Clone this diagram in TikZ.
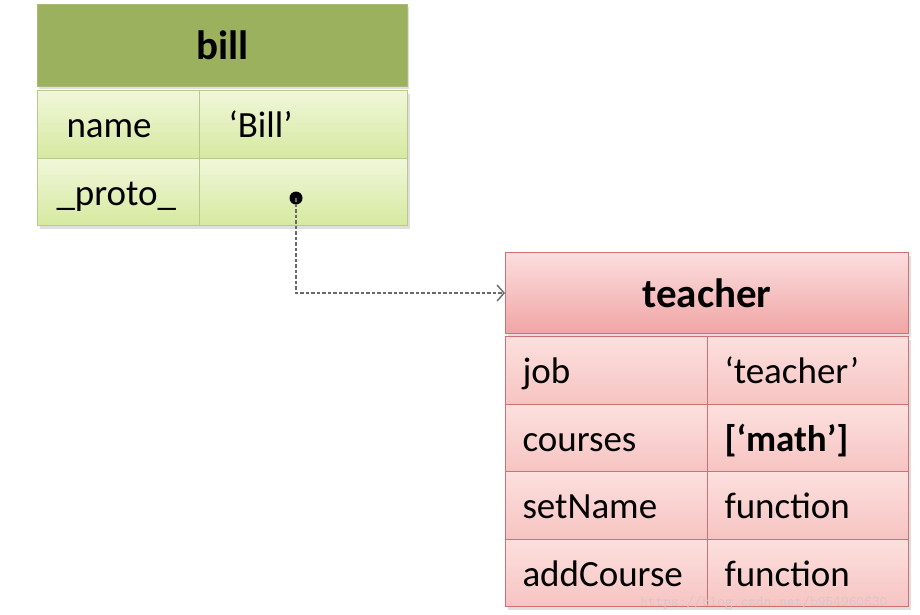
\documentclass[tikz,border=0pt]{standalone}
\usepackage{fontspec}
\setmainfont{Carlito}
\usetikzlibrary{arrows.meta,positioning,shadows}
\definecolor{billhead}{RGB}{156,177,94}
\definecolor{billheadline}{RGB}{170,185,120}
\definecolor{billtop}{RGB}{240,247,218}
\definecolor{billbot}{RGB}{214,233,160}
\definecolor{billline}{RGB}{185,200,140}
\definecolor{teachtop}{RGB}{252,222,222}
\definecolor{teachbot}{RGB}{240,165,165}
\definecolor{teachcelltop}{RGB}{252,224,222}
\definecolor{teachcellbot}{RGB}{246,196,194}
\definecolor{teachline}{RGB}{208,112,112}
\definecolor{arrowgray}{RGB}{105,105,105}
\definecolor{wmark}{RGB}{214,198,198}
\tikzset{
  shd/.style={drop shadow={shadow xshift=2pt,shadow yshift=-3pt,opacity=0.25}},
  headbox/.style={anchor=north west,inner sep=0pt,shd,text height=31pt,text depth=2pt,
    font=\fontsize{41}{48}\selectfont\bfseries},
  billcell/.style={draw=billline,line width=1pt,top color=billtop,bottom color=billbot,
    anchor=north west,minimum height=67.5pt,inner xsep=29pt,inner ysep=0pt,
    text height=28pt,text depth=1pt,align=left,shd,font=\fontsize{37}{44}\selectfont},
  teachcell/.style={draw=teachline,line width=1pt,top color=teachcelltop,bottom color=teachcellbot,
    anchor=north west,minimum height=67.5pt,inner xsep=17pt,inner ysep=0pt,
    text height=28pt,text depth=1pt,align=left,shd,font=\fontsize{37}{44}\selectfont}
}
\begin{document}
\begin{tikzpicture}[x=1pt,y=-1pt,>=Stealth]
  \useasboundingbox[fill=white] (0,0) rectangle (920,614);
  % bill
  \node[headbox,fill=billhead,draw=billheadline,minimum width=370pt,minimum height=82pt]
    (billhd) at (37,4) {bill};
  \node[billcell,text width=104pt] (bname) at (37,90) {name};
  \node[billcell,text width=150pt] (bnameval) at (199,90) {‘Bill’};
  \node[billcell,inner xsep=19pt,text width=124pt] (bproto) at (37,157.5) {\_proto\_};
  \node[billcell,text width=150pt] (bprotoval) at (199,157.5) {};
  % teacher
  \node[headbox,top color=teachtop,bottom color=teachbot,draw=teachline,line width=1pt,
    minimum width=403pt,minimum height=81pt] (tchd) at (505,252) {teacher};
  \node[teachcell,text width=168pt] (tjob) at (505,336) {job};
  \node[teachcell,text width=167pt] (tjobval) at (707,336) {‘teacher’};
  \node[teachcell,text width=168pt] (tcourses) at (505,403.5) {courses};
  \node[teachcell,text width=167pt,font=\fontsize{37}{44}\selectfont\bfseries] (tcoursesval) at (707,403.5) {[‘math’]};
  \node[teachcell,text width=168pt] (tset) at (505,471) {setName};
  \node[teachcell,text width=167pt] (tsetval) at (707,471) {function};
  \node[teachcell,text width=168pt] (tadd) at (505,538.5) {addCourse};
  \node[teachcell,text width=167pt] (taddval) at (707,538.5) {function};
  % link
  \node[circle,fill=black,minimum size=13pt,inner sep=0pt] (dot) at (296,198) {};
  \draw[arrowgray,line width=1.4pt,dash pattern=on 3.5pt off 2pt,
    -{Straight Barb[length=7pt,width=16pt]}] (dot.center) |- (tchd.west);
  \node[anchor=west,text=wmark,inner sep=0pt,font=\ttfamily\fontsize{15}{18}\selectfont]
    (wm) at (640,603) {https://blog.csdn.net/b954960630};
\end{tikzpicture}
\end{document}
